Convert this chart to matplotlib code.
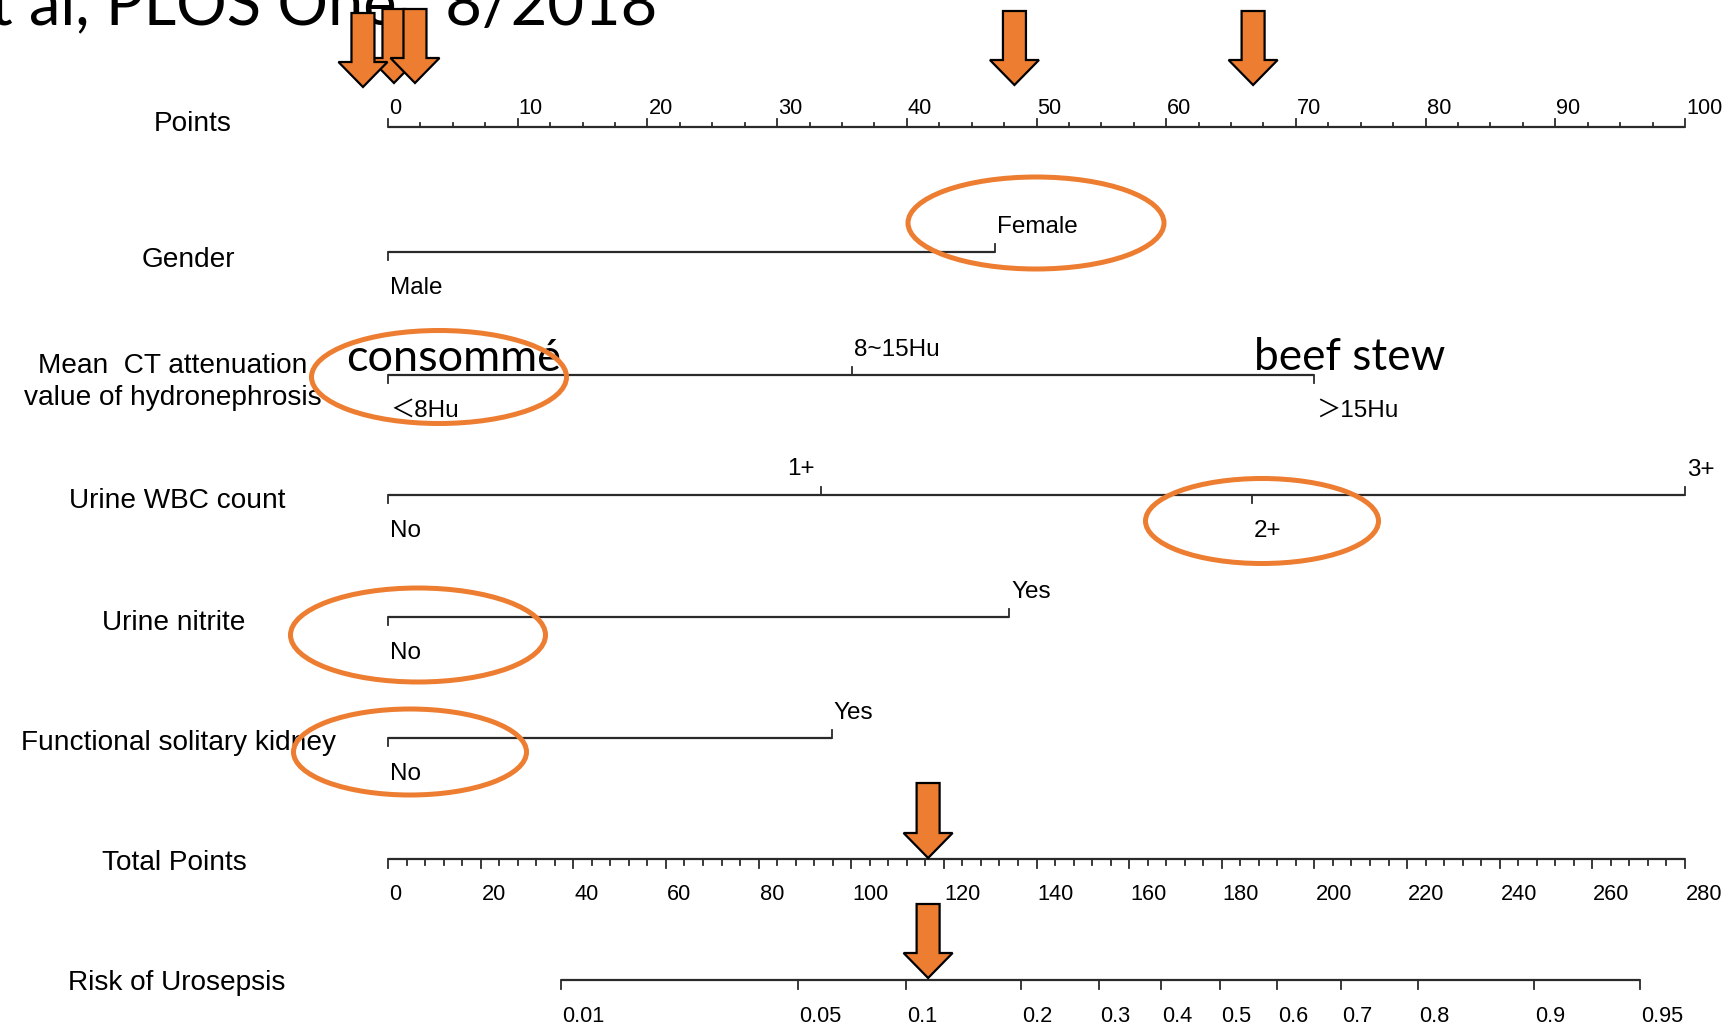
import matplotlib.pyplot as plt
from matplotlib.patches import Ellipse, Polygon
import numpy as np

plt.rcParams['font.family'] = ['Liberation Sans', 'Noto Sans CJK SC', 'DejaVu Sans']

# nomogram rows: level labels and the points they score
gender_levels = ['Male', 'Female']
gender_points = [0, 46.8]
ct_levels = ['＜8Hu', '8~15Hu', '＞15Hu']
ct_points = [0, 35.8, 71.4]
wbc_levels = ['No', '1+', '2+', '3+']
wbc_points = [0, 33.4, 66.6, 100]
nitrite_levels = ['No', 'Yes']
nitrite_points = [0, 47.9]
kidney_levels = ['No', 'Yes']
kidney_points = [0, 34.2]

points_max = 100
total_max = 280
risk_labels = ['0.01', '0.05', '0.1', '0.2', '0.3', '0.4', '0.5', '0.6', '0.7', '0.8', '0.9', '0.95']
risk_total = [37.4, 88.5, 111.8, 136.7, 153.5, 166.9, 179.6, 191.9, 205.7, 222.3, 247.4, 270.3]

# orange arrows marked on the slide (points scale / total points scale)
arrow_points = [0.46, -1.93, 2.08, 48.3, 66.7]
arrow_total = 116.6

# layout (pixels)
PX = 12.97          # pixels per point
X0 = 388            # pixel x of 0 points
W, H = 1729, 1028
ORANGE = '#ED7D31'
LINE = '#2a2a2a'

fig = plt.figure(figsize=(W / 100, H / 100), dpi=100)
ax = fig.add_axes([0, 0, 1, 1])
ax.set_xlim(-X0 / PX, (W - X0) / PX)
ax.set_ylim(H, 0)
ax.axis('off')


def px(w):
    return w / PX


def xp(x_pixel):
    return (x_pixel - X0) / PX


def tp(v):
    return v * points_max / total_max


name_fs = 20.2
lev_fs = 17.5
tick_fs = 15.7

# Points axis
y = 127
ax.plot([0, points_max], [y, y], color=LINE, lw=1.6, solid_capstyle='butt')
for v in np.arange(0, points_max + 0.1, 2.5):
    major = v % 10 == 0
    ax.plot([v, v], [y, y - (8 if major else 4.5)], color=LINE, lw=1.3)
    if major:
        ax.text(v + px(1), 114, f'{v:g}', fontsize=tick_fs, ha='left', va='baseline')
ax.text(xp(193), 131, 'Points', fontsize=name_fs, ha='center', va='baseline')


def row(name, name_x, name_y, y, levels, pts):
    ax.plot([min(pts), max(pts)], [y, y], color=LINE, lw=1.6, solid_capstyle='butt')
    for i, (lab, p) in enumerate(zip(levels, pts)):
        up = i % 2 == 1
        ax.plot([p, p], [y, y - 8 if up else y + 8], color=LINE, lw=1.3)
        if lab == '1+':
            ax.text(p - px(6), y - 20, lab, fontsize=lev_fs, ha='right', va='baseline')
        else:
            ax.text(p + px(2), y - 19 if up else y + 42, lab, fontsize=lev_fs,
                    ha='left', va='baseline')
    ax.text(xp(name_x), name_y, name, fontsize=name_fs, ha='center', va='baseline',
            linespacing=1.3)


row('Gender', 188, 267, 252, gender_levels, gender_points)
row('Mean  CT attenuation\nvalue of hydronephrosis', 173, 405, 375, ct_levels, ct_points)
row('Urine WBC count', 177, 508, 495, wbc_levels, wbc_points)
row('Urine nitrite', 174, 630, 617, nitrite_levels, nitrite_points)
row('Functional solitary kidney', 179, 750, 738, kidney_levels, kidney_points)

# Total Points axis
y = 859
ax.plot([0, tp(total_max)], [y, y], color=LINE, lw=1.6, solid_capstyle='butt')
for v in np.arange(0, total_max + 1, 4):
    major = v % 20 == 0
    ax.plot([tp(v), tp(v)], [y, y + (9 if major else 6)], color=LINE, lw=1.3)
    if major:
        ax.text(tp(v) + px(1), 900, f'{v:d}', fontsize=tick_fs, ha='left', va='baseline')
ax.text(xp(174), 870, 'Total Points', fontsize=name_fs, ha='center', va='baseline')

# Risk axis
y = 980
ax.plot([tp(risk_total[0]), tp(risk_total[-1])], [y, y], color=LINE, lw=1.6,
        solid_capstyle='butt')
for lab, v in zip(risk_labels, risk_total):
    ax.plot([tp(v), tp(v)], [y, y + 9], color=LINE, lw=1.3)
    ax.text(tp(v) + px(1), 1022, lab, fontsize=tick_fs, ha='left', va='baseline')
ax.text(xp(177), 990, 'Risk of Urosepsis', fontsize=name_fs, ha='center', va='baseline')

# slide title, cut off at the top edge
ax.text(xp(-10), 24, 't al, PLOS One   8/2018', fontsize=45.5, family='Lato',
        ha='left', va='baseline', zorder=1)

# overlaid words
ax.text(xp(346), 371, 'consommé', fontsize=32.5, family='Lato', ha='left', va='baseline', zorder=4)
ax.text(xp(1254), 370, 'beef stew', fontsize=31.8, family='Lato', ha='left', va='baseline', zorder=4)

# ellipses (pixel centre x, centre y, width, height)
ellipses = [(1036, 223, 256, 92), (439, 377, 255, 93), (1262, 521, 233, 85),
            (418, 635, 255, 94), (410, 752, 233, 86)]
for cx, cy, w, h in ellipses:
    ax.add_patch(Ellipse((xp(cx), cy), px(w), h, fill=False, edgecolor=ORANGE, lw=3.6, zorder=5))


def arrow(x, tip_y, length=74, shaft=23, head=49, head_len=25):
    sw, hw = px(shaft) / 2, px(head) / 2
    base = tip_y - head_len
    top = tip_y - length
    verts = [(x - sw, top), (x + sw, top), (x + sw, base), (x + hw, base), (x, tip_y),
             (x - hw, base), (x - sw, base)]
    ax.add_patch(Polygon(verts, closed=True, facecolor=ORANGE, edgecolor='black',
                         lw=1.6, joinstyle='miter', zorder=6))


arrow_tips = [83, 87, 83, 85, 85]
for x, t in zip(arrow_points, arrow_tips):
    arrow(x, t)
arrow(tp(arrow_total), 858, length=75)
arrow(tp(arrow_total), 978, length=74)

fig.savefig('out.png', dpi=100)
